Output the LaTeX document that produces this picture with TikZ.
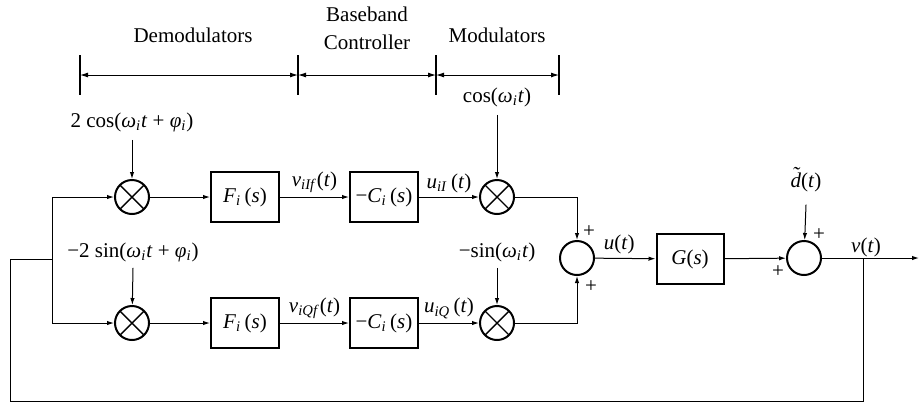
\documentclass[tikz,border=0pt]{standalone}
\usepackage{fontspec}
\setmainfont{Liberation Serif}
\usetikzlibrary{arrows.meta}
\newcommand{\ii}[1]{\textit{#1}}
\newcommand{\sbi}[1]{\textsubscript{\textit{#1}}}
\newcommand{\dtil}{\ii{d}\makebox[0pt][r]{\raisebox{0.62ex}{\ii{\char"02DC}}\hspace{0.03em}}}
\begin{document}
\begin{tikzpicture}[x=0.5pt,y=-0.5pt,
  font=\fontsize{10.5}{12}\selectfont,
  thin line/.style={line width=0.5pt},
  arr/.style={thin line,-{Latex[length=3.5pt,width=2.2pt]}},
  dim/.style={thin line,{Latex[length=4pt,width=2.5pt]}-{Latex[length=4pt,width=2.5pt]}},
  tick/.style={line width=0.9pt},
  mixer/.style={circle,draw,line width=1pt,minimum size=17pt,inner sep=0pt,
    path picture={\draw[line width=0.7pt] (path picture bounding box.north west) -- (path picture bounding box.south east)
      (path picture bounding box.north east) -- (path picture bounding box.south west);}},
  summer/.style={circle,draw,line width=1pt,minimum size=17pt,inner sep=0pt},
  block/.style={rectangle,draw,line width=1pt,minimum width=34pt,minimum height=25pt,inner sep=1pt},
  lbl/.style={inner sep=1pt},
  sgn/.style={inner sep=0pt}]
\useasboundingbox (0,0) rectangle (919,404);

% dimension line
\coordinate (t1) at (80,75);
\coordinate (t2) at (298,75);
\coordinate (t3) at (436,75);
\coordinate (t4) at (559,75);
\draw[tick] (80,55) -- (80,95);
\draw[tick] (298,55) -- (298,95);
\draw[tick] (436,55) -- (436,95);
\draw[tick] (559,55) -- (559,95);
\draw[dim] (t1) -- (t2);
\draw[dim] (t2) -- (t3);
\draw[dim] (t3) -- (t4);
\node[lbl] (demod) at (193,35) {Demodulators};
\node[lbl] (bb) at (367,14) {Baseband};
\node[lbl] (ctrl) at (367,42) {Controller};
\node[lbl] (mod) at (497,35) {Modulators};

% nodes
\node[mixer] (m1) at (132,197) {};
\node[mixer] (m2) at (132,323) {};
\node[block] (F1) at (245,197) {\ii{F}\sbi{i}\,(\ii{s})};
\node[block] (F2) at (245,323) {\ii{F}\sbi{i}\,(\ii{s})};
\node[block] (C1) at (384,197) {−\ii{C}\sbi{i}\,(\ii{s})};
\node[block] (C2) at (384,323) {−\ii{C}\sbi{i}\,(\ii{s})};
\node[mixer] (m3) at (497,197) {};
\node[mixer] (m4) at (497,323) {};
\node[summer] (s1) at (577,258) {};
\node[block,minimum width=33.5pt] (G) at (690,259) {\ii{G}(\ii{s})};
\node[summer] (s2) at (804,258) {};
\coordinate (br) at (863,258);
\coordinate (out) at (919,258);
\coordinate (jl) at (52,259);
\coordinate (fbl) at (10,401);

% input labels
\node[lbl] (c1) at (132,122) {2 cos(\ii{ω}\sbi{i}\ii{t} + \ii{φ}\sbi{i})};
\node[lbl] (c2) at (133,252) {−2 sin(\ii{ω}\sbi{i}\ii{t} + \ii{φ}\sbi{i})};
\node[lbl] (c3) at (497,97) {cos(\ii{ω}\sbi{i}\ii{t})};
\node[lbl] (c4) at (497,252) {−sin(\ii{ω}\sbi{i}\ii{t})};
\node[lbl] (dd) at (806,180) {\dtil(\ii{t})};

\draw[arr] ([yshift=-3pt]c1.south) -- (m1);
\draw[arr] ([yshift=-2pt]c2.south) -- (m2);
\draw[arr] ([yshift=-3pt]c3.south) -- (m3);
\draw[arr] ([yshift=-2pt]c4.south) -- (m4);
\draw[arr] ([yshift=-5pt]dd.south) -- (s2);

% signal paths
\draw[arr] (jl) |- (m1);
\draw[arr] (jl) |- (m2);
\draw[arr] (m1) -- (F1);
\draw[arr] (m2) -- (F2);
\draw[arr] (F1) -- node[above,lbl,yshift=1pt] {\ii{v}\sbi{iIf}(\ii{t})} (C1);
\draw[arr] (F2) -- node[above,lbl,yshift=1pt] {\ii{v}\sbi{iQf}(\ii{t})} (C2);
\draw[arr] (C1) -- node[above,lbl,yshift=1pt] {\ii{u}\sbi{iI}\,(\ii{t})} (m3);
\draw[arr] (C2) -- node[above,lbl,yshift=1pt] {\ii{u}\sbi{iQ}\,(\ii{t})} (m4);
\draw[arr] (m3) -| (s1);
\draw[arr] (m4) -| (s1);
\draw[arr] (s1) -- node[above,lbl,pos=0.4,yshift=1pt] {\ii{u}(\ii{t})} (G);
\draw[arr] (G) -- (s2);
\draw[arr] (s2) -- (out);
\draw[thin line] (br) |- (fbl) |- (jl);
\node[lbl] (vt) at (866,247) {\ii{v}(\ii{t})};

% signs
\node[sgn] (p1) at (589,232) {+};
\node[sgn] (p2) at (591,287) {+};
\node[sgn] (p3) at (819,235) {+};
\node[sgn] (p4) at (778,272) {+};
\end{tikzpicture}
\end{document}
